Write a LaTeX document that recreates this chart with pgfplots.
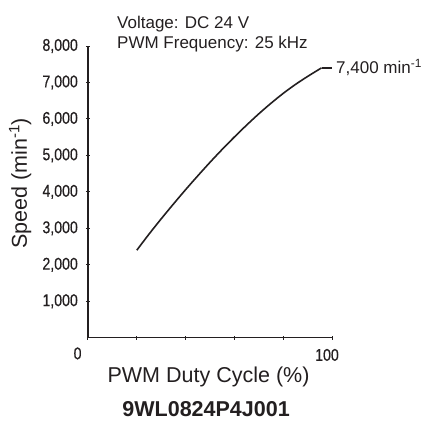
\documentclass[border=0pt]{standalone}
\usepackage{fontspec}
\setmainfont{Liberation Sans}
\newfontfamily\tickfam[FakeStretch=0.83,FakeBold=0.6]{Liberation Sans}
\usepackage{pgfplots}
\pgfplotsset{compat=1.18}
\definecolor{ink}{HTML}{231F20}
\newcommand{\tickfont}{\tickfam\fontsize{17bp}{20bp}\selectfont}
\newcommand{\notefont}{\fontsize{17bp}{20bp}\selectfont}
\newcommand{\labfont}{\fontsize{21.5bp}{25bp}\selectfont}
\begin{document}
\begin{tikzpicture}
\begin{axis}[
  scale only axis,
  width=244bp, height=291.7bp,
  at={(0,0)}, anchor=south west,
  xmin=0, xmax=100, ymin=0, ymax=8000,
  axis x line=bottom, axis y line=left,
  axis line style={-, ink, line width=1.3bp},
  tick style={ink, line width=1bp},
  tick align=center,
  major tick length=4bp,
  xtick={0,20,40,60,80,100},
  xticklabels={,,,,,100},
  ytick={1000,2000,3000,4000,5000,6000,7000,8000},
  yticklabels={{1,000},{2,000},{3,000},{4,000},{5,000},{6,000},{7,000},{8,000}},
  /pgf/number format/assume math mode=true,
  xticklabel style={font=\tickfont, text=ink, inner sep=0pt, anchor=north, yshift=-9bp, xshift=-5bp},
  yticklabel style={font=\tickfont, text=ink, inner sep=0pt, anchor=east, xshift=-8bp},
  xlabel={PWM Duty Cycle (\%)},
  ylabel={Speed (min\textsuperscript{-1})},
  every axis x label/.style={at={(axis description cs:0.494,-0.155)}, anchor=base, font=\labfont, text=ink},
  every axis y label/.style={at={(axis description cs:-0.25,0.529)}, anchor=base, rotate=90, font=\labfont, text=ink},
  clip=false,
]
\addplot[ink, line width=1.6bp, smooth, tension=0.5] coordinates {
  (20,2400) (25,2840) (30,3260) (35,3665) (40,4060) (45,4440) (50,4810)
  (55,5165) (60,5505) (65,5830) (70,6140) (75,6430) (80,6700)
  (85,6945) (90,7165) (95.7,7400)
};
\addplot[ink, line width=1.6bp] coordinates {(95.7,7400) (100,7400)};
\node[anchor=base west, inner sep=0pt, font=\notefont, text=ink] at (axis cs:11.9,8485) {Voltage: DC 24 V};
\node[anchor=base west, inner sep=0pt, font=\notefont, text=ink] at (axis cs:11.9,7937) {PWM Frequency: 25 kHz};
\node[anchor=base west, inner sep=0pt, font=\notefont, text=ink, xshift=4bp, yshift=-6bp] at (axis cs:100,7400) {7,400 min\textsuperscript{-1}};
\node[anchor=north east, inner sep=0pt, font=\tickfont, text=ink, xshift=-6.3bp, yshift=-9.5bp] at (axis cs:0,0) {0};
\node[anchor=base, inner sep=0pt, font=\labfont\bfseries, text=ink] at (axis description cs:0.484,-0.271) {9WL0824P4J001};
\end{axis}
\pgfresetboundingbox
\useasboundingbox (-88bp,-84.3bp) rectangle (336bp,337.7bp);
\end{tikzpicture}
\end{document}
